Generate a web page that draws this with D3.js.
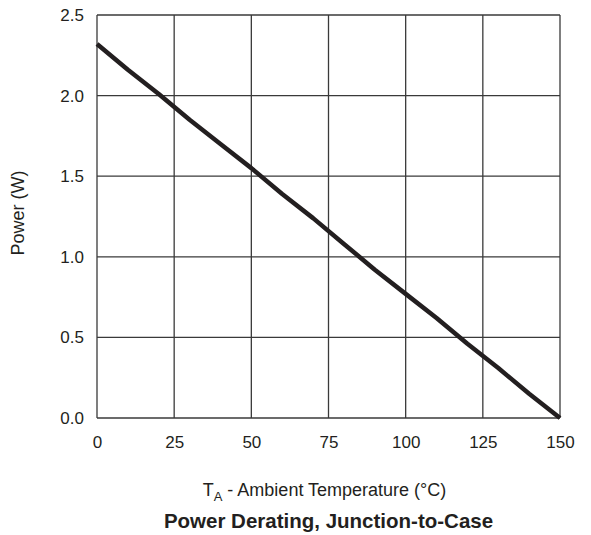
<!DOCTYPE html>
<html>
<head>
<meta charset="utf-8">
<script src="https://cdn.jsdelivr.net/npm/d3@7"></script>
<style>
  body { margin: 0; background: #fff; }
  text { font-family: "Liberation Sans", Arial, sans-serif; fill: #231f20; }
</style>
</head>
<body>
<div id="chart"></div>
<script>
// ambient temperature (°C) and allowed power (W)
const temps = [0, 10, 20, 30, 40, 50, 60, 70, 80, 90, 100, 110, 120, 130, 140, 150];
const power = [2.32, 2.16, 2.01, 1.85, 1.70, 1.55, 1.39, 1.24, 1.08, 0.92, 0.77, 0.62, 0.46, 0.31, 0.15, 0.0];
const xTicks = [0, 25, 50, 75, 100, 125, 150];
const yTicks = [0, 0.5, 1.0, 1.5, 2.0, 2.5];

const W = 591, H = 535;
const margin = { top: 15, right: 31, bottom: 117, left: 97 };
const w = W - margin.left - margin.right;
const h = H - margin.top - margin.bottom;

const svg = d3.select("#chart").append("svg")
  .attr("width", W)
  .attr("height", H);

const g = svg.append("g")
  .attr("transform", `translate(${margin.left},${margin.top})`);

const x = d3.scaleLinear().domain([0, 150]).range([0, w]);
const y = d3.scaleLinear().domain([0, 2.5]).range([h, 0]);

// grid
g.selectAll(".vgrid").data(xTicks).join("line")
  .attr("x1", d => x(d)).attr("x2", d => x(d))
  .attr("y1", 0).attr("y2", h)
  .attr("stroke", "#3a3a3a").attr("stroke-width", 1.3);
g.selectAll(".hgrid").data(yTicks).join("line")
  .attr("x1", 0).attr("x2", w)
  .attr("y1", d => y(d)).attr("y2", d => y(d))
  .attr("stroke", "#3a3a3a").attr("stroke-width", 1.3);

// axes (labels only)
const xAxis = d3.axisBottom(x).tickValues(xTicks).tickSize(0).tickPadding(18);
const yAxis = d3.axisLeft(y).tickValues(yTicks).tickSize(0).tickPadding(13).tickFormat(d3.format(".1f"));

g.append("g").attr("transform", `translate(0,${h})`).call(xAxis)
  .call(s => s.select(".domain").remove())
  .selectAll("text").style("font-size", "17px").attr("fill", "#231f20");
g.append("g").call(yAxis)
  .call(s => s.select(".domain").remove())
  .selectAll("text").style("font-size", "17px").attr("fill", "#231f20");

// curve
const line = d3.line().x((d, i) => x(temps[i])).y(d => y(d));
g.append("path")
  .datum(power)
  .attr("d", line)
  .attr("fill", "none")
  .attr("stroke", "#231f20")
  .attr("stroke-width", 4.5)
  .attr("stroke-linejoin", "round");

// labels
svg.append("text")
  .attr("transform", `translate(24,213) rotate(-90)`)
  .attr("text-anchor", "middle")
  .style("font-size", "18px")
  .text("Power (W)");

const xl = svg.append("text")
  .attr("x", margin.left + w / 2 - 4)
  .attr("y", 496)
  .attr("text-anchor", "middle")
  .style("font-size", "18px");
xl.append("tspan").text("T");
xl.append("tspan").attr("dy", 5).style("font-size", "13px").text("A");
xl.append("tspan").attr("dy", -5).text(" - Ambient Temperature (°C)");

svg.append("text")
  .attr("x", margin.left + w / 2)
  .attr("y", 528)
  .attr("text-anchor", "middle")
  .style("font-size", "20.5px")
  .style("font-weight", "bold")
  .attr("fill", "#000")
  .text("Power Derating, Junction-to-Case");
</script>
</body>
</html>
